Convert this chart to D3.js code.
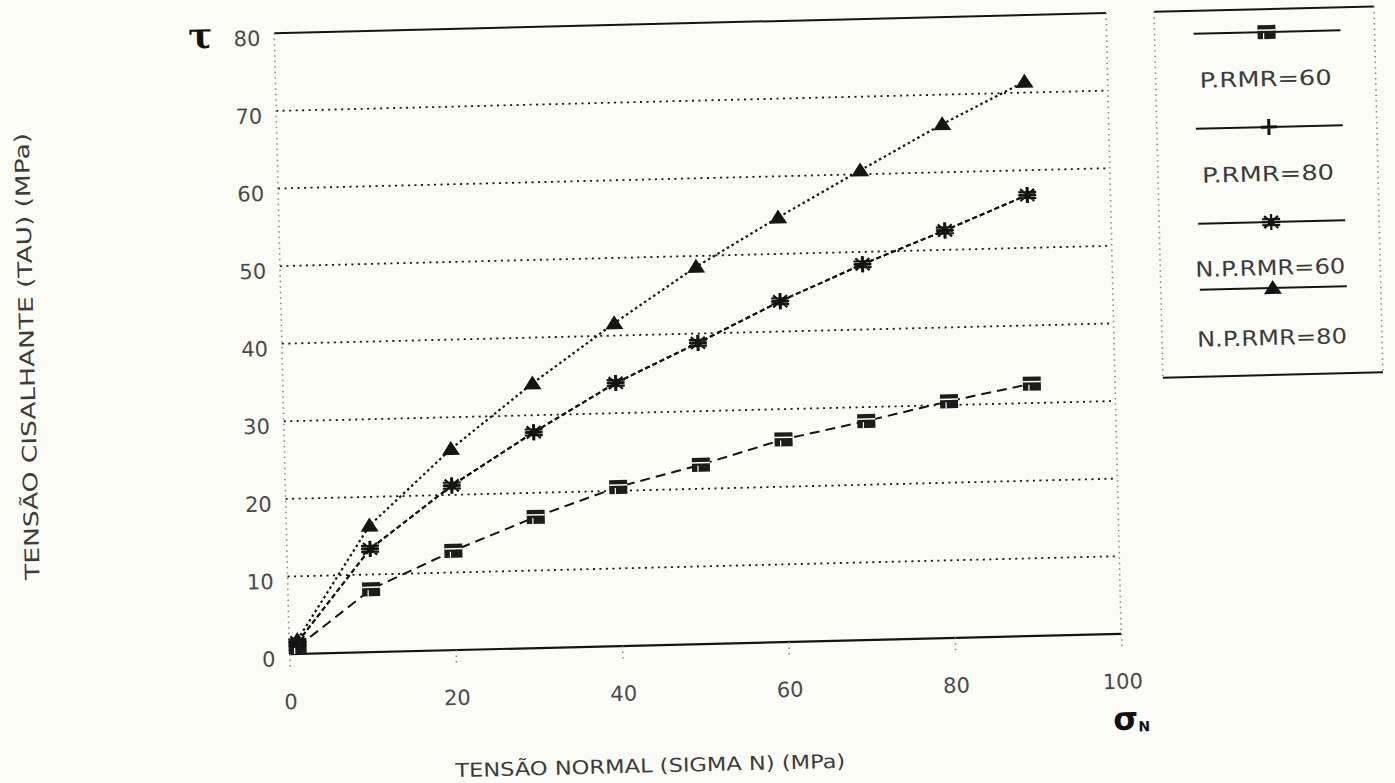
<!DOCTYPE html>
<html>
<head>
<meta charset="utf-8">
<script src="https://cdn.jsdelivr.net/npm/d3@7"></script>
<style>
  html, body { margin: 0; padding: 0; background: #fcfcf6; }
  svg { display: block; }
</style>
</head>
<body>
<svg id="chart" width="1395" height="783"></svg>
<script>
// Normal stress (MPa) at which shear strength was evaluated
const sigmaN = [1, 10, 20, 30, 40, 50, 60, 70, 80, 90];

// Shear stress tau (MPa) per rock-mass condition
const pRmr60  = [0.9, 8.1, 12.8, 16.9, 20.5, 23.1, 26.1, 28.2, 30.5, 32.5];
const pRmr80  = [1.5, 13.3, 21.2, 27.8, 33.9, 38.8, 43.9, 48.4, 52.5, 56.8];
const npRmr60 = [1.5, 13.3, 21.2, 27.8, 33.9, 38.8, 43.9, 48.4, 52.5, 56.8];
const npRmr80 = [1.8, 16.3, 25.9, 34.1, 41.6, 48.6, 54.7, 60.5, 66.2, 71.4];

const seriesNames = ["P.RMR=60", "P.RMR=80", "N.P.RMR=60", "N.P.RMR=80"];
const xTicks = [0, 20, 40, 60, 80, 100];
const yTicks = [0, 10, 20, 30, 40, 50, 60, 70, 80];
const gridValues = [10, 20, 30, 40, 50, 60, 70];

const yTitle = "TENSÃO CISALHANTE (TAU) (MPa)";
const xTitle = "TENSÃO NORMAL (SIGMA N) (MPa)";

const W = 1395, H = 783;
const ink = "#141414";
const font = "'DejaVu Sans', 'Liberation Sans', sans-serif";

const svg = d3.select("#chart");
svg.append("rect").attr("width", W).attr("height", H).attr("fill", "#fcfcf6");

// whole sheet sits slightly askew
const root = svg.append("g").attr("transform", "rotate(-1.4,700,345)");

const plot = { left: 282, right: 1114, top: 23, bottom: 644 };
const x = d3.scaleLinear().domain([0, 100]).range([plot.left, plot.right]);
const y = d3.scaleLinear().domain([0, 80]).range([plot.bottom, plot.top]);

// horizontal dotted grid
root.append("g").selectAll("line").data(gridValues).join("line")
  .attr("x1", x(0)).attr("x2", x(100))
  .attr("y1", d => y(d)).attr("y2", d => y(d))
  .attr("stroke", ink).attr("stroke-width", 1.8)
  .attr("stroke-dasharray", "2,4.5");

// frame: solid top and bottom, faint dotted sides
root.append("line").attr("x1", x(0)).attr("x2", x(100)).attr("y1", y(80)).attr("y2", y(80))
  .attr("stroke", ink).attr("stroke-width", 2);
root.append("line").attr("x1", x(0)).attr("x2", x(100)).attr("y1", y(0)).attr("y2", y(0))
  .attr("stroke", ink).attr("stroke-width", 2.2);
[0, 100].forEach(v => {
  root.append("line").attr("x1", x(v)).attr("x2", x(v)).attr("y1", y(80)).attr("y2", y(0))
    .attr("stroke", "#8a8a86").attr("stroke-width", 1.6).attr("stroke-dasharray", "1.5,4");
});

// x axis ticks and labels
const xAxis = d3.axisBottom(x).tickValues(xTicks).tickSize(14).tickPadding(26);
const gx = root.append("g").attr("transform", `translate(0,${plot.bottom})`).call(xAxis);
gx.select(".domain").remove();
gx.selectAll(".tick line").attr("stroke", "#8a8a86").attr("stroke-width", 1.6)
  .attr("stroke-dasharray", "1.5,4");
gx.selectAll(".tick text").attr("font-family", font).attr("font-size", 21)
  .attr("fill", "#4a4a4a");

// y axis labels
const yAxis = d3.axisLeft(y).tickValues(yTicks).tickSize(0).tickPadding(14);
const gy = root.append("g").attr("transform", `translate(${plot.left},0)`).call(yAxis);
gy.select(".domain").remove();
gy.selectAll(".tick text").attr("font-family", font).attr("font-size", 21)
  .attr("fill", "#4a4a4a").attr("dy", "0.55em");

// axis titles
root.append("text")
  .attr("transform", "translate(34,340) rotate(-90)")
  .attr("text-anchor", "middle")
  .attr("font-family", font).attr("font-size", 20).attr("fill", "#3c3c3c")
  .attr("textLength", 447).attr("lengthAdjust", "spacingAndGlyphs")
  .text(yTitle);
root.append("text")
  .attr("x", 640).attr("y", 771)
  .attr("text-anchor", "middle")
  .attr("font-family", font).attr("font-size", 19).attr("fill", "#3c3c3c")
  .attr("textLength", 390).attr("lengthAdjust", "spacingAndGlyphs")
  .text(xTitle);

// hand-written axis symbols
root.append("text").attr("x", 208).attr("y", 36).attr("text-anchor", "middle")
  .attr("font-family", "'DejaVu Serif', serif").attr("font-size", 36)
  .attr("font-weight", "bold").attr("fill", "#111").text("τ");
const sig = root.append("text").attr("x", 1104).attr("y", 740)
  .attr("font-family", "'DejaVu Sans', sans-serif").attr("fill", "#111").attr("font-weight", "bold");
sig.append("tspan").attr("font-size", 32).text("σ");
sig.append("tspan").attr("font-size", 14).attr("dy", 2).text("N");

// marker shapes
function drawMarker(g, kind) {
  if (kind === "square") {
    g.append("rect").attr("x", -9).attr("y", -7).attr("width", 18).attr("height", 14)
      .attr("fill", "#1c1c1c");
    g.append("line").attr("x1", -9).attr("x2", 9).attr("y1", -2).attr("y2", -2)
      .attr("stroke", "#fcfcf6").attr("stroke-width", 1.5);
    g.append("line").attr("x1", -3).attr("x2", -3).attr("y1", 1).attr("y2", 7)
      .attr("stroke", "#fcfcf6").attr("stroke-width", 1.2);
  } else if (kind === "plus") {
    g.append("path").attr("d", "M-8,0H8M0,-8V8")
      .attr("stroke", ink).attr("stroke-width", 3).attr("fill", "none");
  } else if (kind === "asterisk") {
    g.append("path").attr("d", "M-9,0H9M0,-8V8M-7,-6L7,6M-7,6L7,-6M-9,-3H9M-9,3H9")
      .attr("stroke", ink).attr("stroke-width", 2.2).attr("fill", "none");
  } else {
    g.append("path").attr("d", "M0,-8L9,6H-9Z").attr("fill", ink);
  }
}

const series = [
  { name: seriesNames[0], values: pRmr60,  marker: "square",   dash: "10,6", width: 2 },
  { name: seriesNames[1], values: pRmr80,  marker: "plus",     dash: "5,3",  width: 2 },
  { name: seriesNames[2], values: npRmr60, marker: "asterisk", dash: "5,3",  width: 2 },
  { name: seriesNames[3], values: npRmr80, marker: "triangle", dash: "2.5,3", width: 2.2 }
];

const line = d3.line().x(d => x(d[0])).y(d => y(d[1]));

series.forEach(s => {
  const pts = sigmaN.map((v, i) => [v, s.values[i]]);
  root.append("path").datum(pts)
    .attr("d", line).attr("fill", "none")
    .attr("stroke", ink).attr("stroke-width", s.width)
    .attr("stroke-dasharray", s.dash);
  root.append("g").selectAll("g").data(pts).join("g")
    .attr("transform", d => `translate(${x(d[0])},${y(d[1])})`)
    .each(function () { drawMarker(d3.select(this), s.marker); });
});

// legend box
const lg = { left: 1162, right: 1382, top: 23, bottom: 389 };
root.append("line").attr("x1", lg.left).attr("x2", lg.right).attr("y1", lg.top).attr("y2", lg.top)
  .attr("stroke", ink).attr("stroke-width", 2);
root.append("line").attr("x1", lg.left).attr("x2", lg.right).attr("y1", lg.bottom).attr("y2", lg.bottom)
  .attr("stroke", ink).attr("stroke-width", 2);
[lg.left, lg.right].forEach(xx => {
  root.append("line").attr("x1", xx).attr("x2", xx).attr("y1", lg.top).attr("y2", lg.bottom)
    .attr("stroke", "#8a8a86").attr("stroke-width", 1.6).attr("stroke-dasharray", "1.5,4");
});

const legendLineY = [46, 141, 236, 302];
const legendTextY = [100, 195, 289, 359];
const legendTextW = [132, 132, 150, 150];
series.forEach((s, i) => {
  root.append("line").attr("x1", 1201).attr("x2", 1348)
    .attr("y1", legendLineY[i]).attr("y2", legendLineY[i])
    .attr("stroke", ink).attr("stroke-width", 2);
  const m = root.append("g").attr("transform", `translate(1274,${legendLineY[i]})`);
  drawMarker(m, s.marker);
  root.append("text").attr("x", 1272).attr("y", legendTextY[i])
    .attr("text-anchor", "middle")
    .attr("font-family", font).attr("font-size", 21).attr("fill", "#3c3c3c")
    .attr("textLength", legendTextW[i]).attr("lengthAdjust", "spacingAndGlyphs")
    .text(s.name);
});
</script>
</body>
</html>
